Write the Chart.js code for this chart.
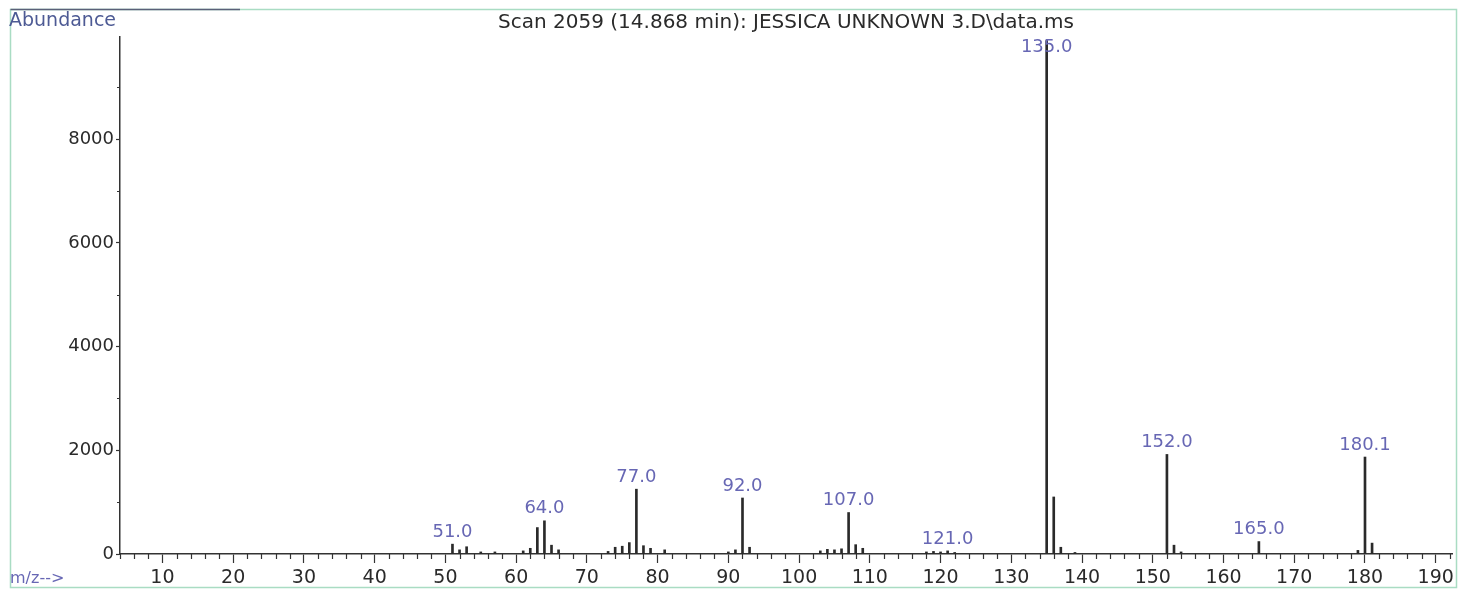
<!DOCTYPE html>
<html>
<head>
<meta charset="utf-8">
<title>Scan 2059</title>
<script src="https://cdn.jsdelivr.net/npm/chart.js@4.4.1/dist/chart.umd.min.js"></script>
<style>
  html, body { margin: 0; padding: 0; background: #fff; }
  #wrap { position: relative; width: 1459px; height: 590px; }
</style>
</head>
<body>
<div id="wrap"><canvas id="ms_chart" width="1459" height="590"></canvas></div>
<script>
// spectrum (m/z and abundance)
var mz = [51, 52, 53, 55, 57, 61, 62, 63, 64, 65, 66,
	73, 74, 75, 76, 77, 78, 79, 81,
	90, 91, 92, 93,
	103, 104, 105, 106, 107, 108, 109,
	118, 119, 120, 121, 122,
	135, 136, 137, 139,
	152, 153, 154, 165, 179, 180, 181];
var abundance = [190, 80, 140, 40, 40, 60, 110, 510, 640, 170, 80,
	50, 130, 150, 220, 1250, 160, 110, 80,
	40, 80, 1080, 130,
	60, 90, 80, 100, 800, 180, 110,
	40, 50, 40, 60, 30,
	9900, 1100, 130, 30,
	1920, 170, 40, 240, 70, 1870, 210];

// annotated peaks
var peakLabelMz = [51, 64, 77, 92, 107, 121, 135, 152, 165, 180];
var peakLabelText = ['51.0', '64.0', '77.0', '92.0', '107.0', '121.0', '135.0', '152.0', '165.0', '180.1'];

var xMajorTicks = [10, 20, 30, 40, 50, 60, 70, 80, 90, 100, 110, 120, 130, 140, 150, 160, 170, 180, 190];
var yTickLabels = [0, 2000, 4000, 6000, 8000];
var yMinorTicks = [1000, 3000, 5000, 7000, 9000];

var titleText = 'Scan 2059 (14.868 min): JESSICA UNKNOWN 3.D\\data.ms';
var yAxisTitle = 'Abundance';
var xAxisTitle = 'm/z-->';

var FONT = '"DejaVu Sans", "Liberation Sans", Arial, sans-serif';
var labelBlue = '#6767b4';
var axisGray = '#333';

var spectrumPoints = [];
for (var i = 0; i < mz.length; i++) {
	spectrumPoints.push({x: mz[i], y: abundance[i]});
}

// frame, titles, peak labels, minor ticks
var decorPlugin = {
	id: 'decor',
	beforeDraw: function(chart) {
		var ctx = chart.ctx;
		ctx.save();
		ctx.fillStyle = '#fff';
		ctx.fillRect(0, 0, chart.width, chart.height);
		ctx.strokeStyle = '#a9dcc3';
		ctx.lineWidth = 1.5;
		ctx.strokeRect(10.5, 9.5, 1446, 578);
		ctx.strokeStyle = '#5a6078';
		ctx.beginPath();
		ctx.moveTo(10.5, 9.5);
		ctx.lineTo(240, 9.5);
		ctx.stroke();
		ctx.restore();
	},
	afterDraw: function(chart) {
		var ctx = chart.ctx;
		var area = chart.chartArea;
		var xs = chart.scales.x;
		var ys = chart.scales.y;
		ctx.save();

		// minor ticks on x
		ctx.strokeStyle = axisGray;
		ctx.lineWidth = 1.2;
		ctx.beginPath();
		for (var v = 4; v <= 192; v += 2) {
			if (v % 10 === 0) continue;
			var px = Math.round(xs.getPixelForValue(v)) + 0.5;
			ctx.moveTo(px, area.bottom);
			ctx.lineTo(px, area.bottom + 5);
		}
		// minor ticks on y
		for (var w = 0; w < yMinorTicks.length; w++) {
			var py = Math.round(ys.getPixelForValue(yMinorTicks[w])) + 0.5;
			ctx.moveTo(area.left, py);
			ctx.lineTo(area.left - 3, py);
		}
		ctx.stroke();

		// texts
		ctx.textAlign = 'left';
		ctx.textBaseline = 'middle';
		ctx.fillStyle = '#4d5a94';
		ctx.font = '19px ' + FONT;
		ctx.fillText(yAxisTitle, 9, 21);
		ctx.fillStyle = labelBlue;
		ctx.font = '16px ' + FONT;
		ctx.fillText(xAxisTitle, 10, 579);

		ctx.fillStyle = '#2a2a2a';
		ctx.font = '20px ' + FONT;
		ctx.textAlign = 'center';
		ctx.fillText(titleText, 786, 23);

		// peak labels
		var meta = chart.getDatasetMeta(0);
		ctx.fillStyle = labelBlue;
		ctx.font = '18px ' + FONT;
		ctx.textBaseline = 'bottom';
		for (var k = 0; k < peakLabelMz.length; k++) {
			var idx = mz.indexOf(peakLabelMz[k]);
			if (idx < 0) continue;
			var el = meta.data[idx];
			var ty = Math.max(el.y - 3, area.top + 19);
			ctx.fillText(peakLabelText[k], el.x, ty);
		}
		ctx.restore();
	}
};

var ctx = document.getElementById('ms_chart').getContext('2d');
var chart = new Chart(ctx, {
	type: 'bar',
	data: {
		datasets: [{
			label: 'Abundance',
			data: spectrumPoints,
			backgroundColor: '#2a2a2a',
			borderWidth: 0,
			barThickness: 2
		}]
	},
	options: {
		responsive: false,
		animation: false,
		devicePixelRatio: 1,
		layout: {
			padding: {top: 37, right: 7, left: 0, bottom: 0}
		},
		plugins: {
			legend: {display: false},
			tooltip: {enabled: false}
		},
		scales: {
			x: {
				type: 'linear',
				offset: false,
				min: 4,
				max: 192.3,
				afterFit: function(scale) { scale.height = 36; },
				afterBuildTicks: function(scale) {
					scale.ticks = xMajorTicks.map(function(v) { return {value: v}; });
				},
				grid: {
					display: true,
					offset: false,
					drawOnChartArea: false,
					tickLength: 9,
					tickColor: axisGray,
					tickWidth: 1.2
				},
				border: {display: true, color: axisGray, width: 1.5},
				ticks: {
					autoSkip: false,
					maxRotation: 0,
					padding: 4,
					color: '#2a2a2a',
					font: {family: FONT, size: 19},
					callback: function(value) { return String(value); }
				}
			},
			y: {
				min: 0,
				max: 9970,
				afterFit: function(scale) { scale.width = 120; },
				afterBuildTicks: function(scale) {
					scale.ticks = yTickLabels.map(function(v) { return {value: v}; });
				},
				grid: {
					display: true,
					drawOnChartArea: false,
					tickLength: 4,
					tickColor: axisGray,
					tickWidth: 1.2
				},
				border: {display: true, color: axisGray, width: 1.5},
				ticks: {
					padding: 2,
					color: '#2a2a2a',
					font: {family: FONT, size: 18},
					callback: function(value) { return String(value); }
				}
			}
		}
	},
	plugins: [decorPlugin]
});
</script>
</body>
</html>
